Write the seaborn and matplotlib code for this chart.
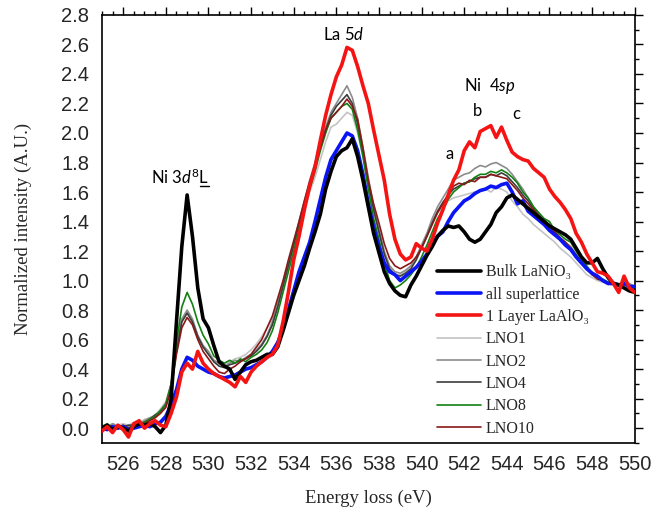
import numpy as np
import pandas as pd
import seaborn as sns
import matplotlib.pyplot as plt
from matplotlib.ticker import MultipleLocator

# energy grid, 0.25 eV steps from 525 to 550
energy = np.round(np.arange(525.0, 550.001, 0.25), 2)

bulk = [
    0.00, 0.02, -0.01, 0.01,
    0.00, -0.02, 0.01, 0.03,
    0.02, 0.03, 0.01, -0.03,
    0.02, 0.20, 0.72, 1.23,
    1.58, 1.30, 0.95, 0.74,
    0.68, 0.56, 0.45, 0.42,
    0.40, 0.33, 0.38, 0.43,
    0.45, 0.46, 0.48, 0.50,
    0.50, 0.55, 0.66, 0.78,
    0.90, 1.00, 1.10, 1.22,
    1.33, 1.45, 1.62, 1.74,
    1.84, 1.88, 1.90, 1.96,
    1.84, 1.68, 1.50, 1.32,
    1.19, 1.06, 0.98, 0.93,
    0.90, 0.89, 0.97, 1.03,
    1.10, 1.17, 1.23, 1.30,
    1.34, 1.37, 1.36, 1.37,
    1.33, 1.28, 1.26, 1.28,
    1.33, 1.38, 1.46, 1.50,
    1.56, 1.58, 1.55, 1.52,
    1.49, 1.46, 1.43, 1.40,
    1.37, 1.35, 1.33, 1.31,
    1.28, 1.22, 1.16, 1.12,
    1.12, 1.15, 1.08, 1.02,
    0.98, 0.97, 0.95, 0.93,
    0.92,
]

superlattice = [
    0.00, -0.01, 0.01, 0.00,
    0.01, -0.01, 0.00, 0.01,
    0.02, 0.01, 0.03, 0.04,
    0.08, 0.16, 0.26, 0.40,
    0.48, 0.46, 0.42, 0.40,
    0.38, 0.37, 0.35, 0.34,
    0.35, 0.36, 0.38, 0.40,
    0.41, 0.43, 0.45, 0.48,
    0.52, 0.58, 0.67, 0.80,
    0.93, 1.06, 1.16, 1.26,
    1.40, 1.55, 1.70, 1.82,
    1.88, 1.94, 2.00, 1.98,
    1.88, 1.72, 1.52, 1.36,
    1.23, 1.12, 1.06, 1.04,
    1.00, 1.03, 1.06, 1.09,
    1.13, 1.18, 1.25, 1.30,
    1.33, 1.40, 1.46, 1.50,
    1.54, 1.56, 1.59, 1.61,
    1.62, 1.64, 1.63, 1.65,
    1.66, 1.60, 1.52, 1.54,
    1.47, 1.44, 1.41, 1.38,
    1.34, 1.31, 1.28, 1.24,
    1.21, 1.16, 1.12, 1.08,
    1.05, 1.03, 1.00, 0.98,
    0.98, 0.97, 0.98, 0.96,
    0.96,
]

one_layer = [
    -0.02, 0.01, -0.03, 0.02,
    -0.01, -0.06, 0.03, 0.05,
    0.00, 0.03, 0.05, 0.02,
    0.01, 0.10, 0.21, 0.38,
    0.44, 0.40, 0.52, 0.44,
    0.40, 0.37, 0.35, 0.33,
    0.31, 0.28, 0.35, 0.31,
    0.38, 0.42, 0.45, 0.48,
    0.50, 0.56, 0.72, 0.92,
    1.14, 1.30, 1.48, 1.64,
    1.77, 1.95, 2.12, 2.26,
    2.38, 2.46, 2.58, 2.56,
    2.45, 2.32, 2.20, 2.02,
    1.85, 1.68, 1.45, 1.28,
    1.18, 1.14, 1.16, 1.25,
    1.22, 1.20, 1.28, 1.39,
    1.48, 1.58, 1.68, 1.75,
    1.88, 1.94, 1.90, 2.01,
    2.03, 2.05, 1.97, 2.04,
    1.95, 1.87, 1.84, 1.82,
    1.81, 1.76, 1.73, 1.70,
    1.62, 1.57, 1.53, 1.48,
    1.42, 1.32, 1.26, 1.18,
    1.12, 1.06, 1.05, 1.03,
    0.98, 0.92, 1.03, 0.95,
    0.92,
]

lno1 = [
    0.02, 0.01, 0.03, 0.02,
    0.03, 0.02, 0.04, 0.03,
    0.06, 0.07, 0.09, 0.13,
    0.18, 0.30, 0.52, 0.72,
    0.78, 0.72, 0.62, 0.55,
    0.50, 0.46, 0.43, 0.42,
    0.45, 0.47, 0.48, 0.50,
    0.53, 0.57, 0.62, 0.68,
    0.74, 0.86, 0.98, 1.10,
    1.22, 1.35, 1.48, 1.60,
    1.70, 1.82, 1.94, 2.04,
    2.06, 2.10, 2.14, 2.12,
    2.00, 1.84, 1.64, 1.46,
    1.32, 1.18, 1.08, 1.04,
    1.04, 1.06, 1.10, 1.16,
    1.24, 1.32, 1.40, 1.46,
    1.50, 1.54, 1.56, 1.57,
    1.58, 1.59, 1.60, 1.61,
    1.62, 1.60, 1.63, 1.62,
    1.60, 1.54, 1.50, 1.45,
    1.42, 1.38, 1.35, 1.32,
    1.29, 1.26, 1.22, 1.19,
    1.16, 1.12, 1.08, 1.04,
    1.02, 1.00, 0.99, 0.98,
    0.99, 0.97, 0.98, 0.96,
    0.96,
]

lno2 = [
    0.02, 0.00, 0.03, 0.01,
    0.02, 0.01, 0.03, 0.02,
    0.05, 0.07, 0.08, 0.12,
    0.17, 0.30, 0.55, 0.74,
    0.80, 0.74, 0.63, 0.56,
    0.52, 0.46, 0.44, 0.42,
    0.44, 0.46, 0.45, 0.48,
    0.50, 0.53, 0.57, 0.63,
    0.72, 0.85, 0.98, 1.12,
    1.25, 1.40, 1.54, 1.68,
    1.80, 1.92, 2.04, 2.14,
    2.20, 2.26, 2.32, 2.24,
    2.10, 1.90, 1.70, 1.50,
    1.35, 1.20, 1.10, 1.06,
    1.05, 1.07, 1.10, 1.16,
    1.24, 1.32, 1.42, 1.50,
    1.56, 1.62, 1.68, 1.70,
    1.72, 1.73, 1.76, 1.78,
    1.77, 1.79, 1.80, 1.78,
    1.76, 1.72, 1.67, 1.62,
    1.56, 1.50, 1.45, 1.41,
    1.38, 1.33, 1.29, 1.26,
    1.23, 1.18, 1.13, 1.09,
    1.05, 1.02, 1.00, 0.99,
    0.99, 0.98, 0.97, 0.98,
    0.96,
]

lno4 = [
    0.01, 0.02, 0.00, 0.02,
    0.01, 0.02, 0.02, 0.03,
    0.04, 0.06, 0.09, 0.11,
    0.16, 0.28, 0.52, 0.72,
    0.78, 0.72, 0.62, 0.55,
    0.50, 0.45, 0.42, 0.41,
    0.43, 0.44, 0.46, 0.47,
    0.49, 0.52, 0.56, 0.62,
    0.70, 0.82, 0.96, 1.10,
    1.24, 1.38, 1.52, 1.66,
    1.78, 1.90, 2.02, 2.12,
    2.18, 2.22, 2.26, 2.20,
    2.06, 1.86, 1.66, 1.48,
    1.33, 1.18, 1.08, 1.04,
    1.03, 1.05, 1.08, 1.14,
    1.22, 1.30, 1.39, 1.47,
    1.53, 1.58, 1.62, 1.64,
    1.66, 1.67, 1.69, 1.70,
    1.70, 1.72, 1.71, 1.73,
    1.71, 1.67, 1.63, 1.58,
    1.54, 1.49, 1.44, 1.40,
    1.37, 1.32, 1.28, 1.25,
    1.22, 1.17, 1.12, 1.08,
    1.04, 1.02, 1.00, 0.98,
    0.98, 0.97, 0.98, 0.96,
    0.95,
]

lno8 = [
    0.01, 0.03, 0.00, 0.02,
    0.01, 0.00, 0.02, 0.03,
    0.04, 0.06, 0.08, 0.12,
    0.16, 0.30, 0.58, 0.82,
    0.92, 0.84, 0.72, 0.63,
    0.57, 0.49, 0.46, 0.44,
    0.46, 0.44, 0.47, 0.45,
    0.48, 0.50, 0.53, 0.58,
    0.66, 0.78, 0.92, 1.06,
    1.20, 1.35, 1.50, 1.62,
    1.74, 1.88, 2.00, 2.10,
    2.14, 2.18, 2.20, 2.16,
    2.02, 1.84, 1.62, 1.42,
    1.28, 1.12, 1.00, 0.95,
    0.97, 1.00, 1.04, 1.09,
    1.16, 1.24, 1.33, 1.42,
    1.48, 1.55, 1.60, 1.63,
    1.66, 1.67, 1.70, 1.72,
    1.72, 1.74, 1.73, 1.75,
    1.73, 1.70, 1.66, 1.60,
    1.56, 1.50, 1.46, 1.42,
    1.40, 1.34, 1.31, 1.28,
    1.26, 1.20, 1.14, 1.10,
    1.05, 1.02, 1.01, 0.99,
    0.98, 0.97, 0.99, 0.96,
    0.95,
]

lno10 = [
    0.00, 0.02, 0.01, 0.00,
    0.02, 0.00, 0.01, 0.03,
    0.03, 0.05, 0.07, 0.10,
    0.14, 0.26, 0.50, 0.68,
    0.75, 0.70, 0.60, 0.52,
    0.47, 0.42, 0.38, 0.37,
    0.40, 0.42, 0.45, 0.47,
    0.50, 0.55, 0.60, 0.68,
    0.76, 0.88, 1.00, 1.14,
    1.27, 1.40, 1.54, 1.67,
    1.78, 1.90, 2.02, 2.10,
    2.14, 2.18, 2.23, 2.18,
    2.09, 1.90, 1.68, 1.52,
    1.39, 1.25, 1.15, 1.10,
    1.08, 1.10, 1.12, 1.16,
    1.22, 1.30, 1.38, 1.46,
    1.52, 1.58, 1.64, 1.66,
    1.65, 1.68, 1.67, 1.70,
    1.70, 1.72, 1.71, 1.70,
    1.69, 1.65, 1.61, 1.56,
    1.52, 1.48, 1.44, 1.40,
    1.37, 1.33, 1.29, 1.26,
    1.22, 1.17, 1.12, 1.08,
    1.04, 1.01, 1.00, 0.98,
    0.98, 0.96, 0.98, 0.95,
    0.94,
]

labels = ["Bulk LaNiO\u2083", "all superlattice", "1 Layer LaAlO\u2083",
          "LNO1", "LNO2", "LNO4", "LNO8", "LNO10"]
series = [bulk, superlattice, one_layer, lno1, lno2, lno4, lno8, lno10]
colors = ["#000000", "#0a14f5", "#f51414", "#c4c4c4", "#8c8c8c",
          "#3c3c3c", "#128012", "#8a1818"]
widths = [2.6, 2.6, 2.6, 1.2, 1.2, 1.2, 1.2, 1.2]

sns.set_theme(style="white")
plt.rcParams["font.family"] = ["Liberation Sans", "DejaVu Sans"]
plt.rcParams["mathtext.fontset"] = "custom"
plt.rcParams["mathtext.rm"] = "Lato"
plt.rcParams["mathtext.it"] = "Lato:italic"

fig = plt.figure(figsize=(6.53, 5.15), dpi=100)
ax = fig.add_axes([0.156, 0.140, 0.816, 0.831])

# thin curves first, thick ones on top
draw_order = [3, 4, 5, 6, 7, 1, 0, 2]
for i in draw_order:
    df = pd.DataFrame({"E": energy, "I": series[i]})
    sns.lineplot(data=df, x="E", y="I", ax=ax, color=colors[i],
                 linewidth=widths[i], label=labels[i], zorder=3 if widths[i] > 2 else 2)

ax.set_xlim(525, 550)
ax.set_ylim(-0.1, 2.8)
ax.xaxis.set_major_locator(MultipleLocator(2))
ax.xaxis.set_minor_locator(MultipleLocator(0.5))
ax.yaxis.set_major_locator(MultipleLocator(0.2))
ax.yaxis.set_minor_locator(MultipleLocator(0.1))
ax.yaxis.set_major_formatter(plt.FormatStrFormatter("%.1f"))
ax.tick_params(which="both", direction="out", top=True, right=True,
               color="black", width=1.0, labelsize=14.5, pad=3)
ax.tick_params(which="major", length=6)
ax.tick_params(which="minor", length=3)
ax.tick_params(axis="both", which="both", labeltop=False, labelright=False)
for s in ax.spines.values():
    s.set_color("black")
    s.set_linewidth(1.2)

serif = ["Liberation Serif", "DejaVu Serif"]
ax.set_xlabel("Energy loss (eV)", family=serif, fontsize=13.5, labelpad=11)
ax.set_ylabel("Normalized intensity (A.U.)", family=serif, fontsize=13.5, labelpad=21)

# legend in the original listing order
handles, labs = ax.get_legend_handles_labels()
lookup = dict(zip(labs, handles))
leg = ax.legend([lookup[l] for l in labels], labels, loc="lower right",
                bbox_to_anchor=(0.935, -0.012), frameon=False,
                prop={"family": serif, "size": 11.5},
                handlelength=2.8, handletextpad=0.3, labelspacing=0.40,
                borderaxespad=0.3)

ann = dict(fontsize=12, color="black", va="center", family="Lato")
t1 = ax.text(528.65, 1.70, r"Ni 3$\mathit{d}^{\mathit{8}}$L", ha="center", **ann)
ax.text(536.35, 2.67, r"La 5$\mathit{d}$", ha="center", **ann)
ax.text(543.2, 2.32, r"Ni  4$\mathit{sp}$", ha="center", **ann)
ax.text(541.3, 1.86, "a", ha="center", **ann)
ax.text(542.62, 2.15, "b", ha="center", **ann)
ax.text(544.45, 2.13, "c", ha="center", **ann)

# underline the ligand hole "L": measure the rendered text and put a short bar under its last glyph
fig.canvas.draw()
r = fig.canvas.get_renderer()
bb = t1.get_window_extent(r)
probe = ax.text(0, 0, "L", fontsize=12, family="Lato")
wl = probe.get_window_extent(r).width
probe.remove()
inv = ax.transData.inverted()
(x0, y0) = inv.transform((bb.x1 - wl, bb.y0 + 1))
(x1, _) = inv.transform((bb.x1, bb.y0 + 1))
ax.plot([x0, x1], [y0, y0], color="black", lw=1.0)

fig.savefig("out.png", dpi=100)
